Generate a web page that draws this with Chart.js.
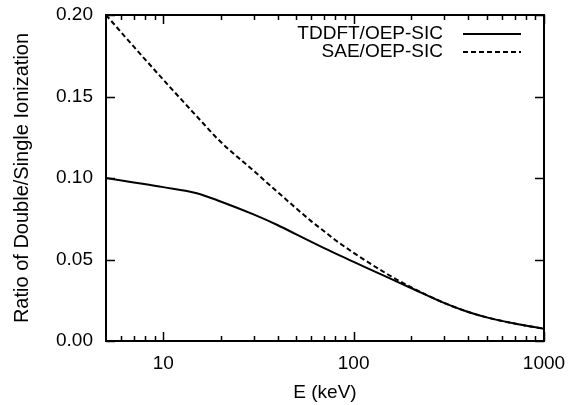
<!DOCTYPE html>
<html><head><meta charset="utf-8">
<script src="https://cdn.jsdelivr.net/npm/chart.js@4"></script>
<style>html,body{margin:0;padding:0;background:#fff}#wrap{width:574px;height:405px}</style>
</head><body><div id="wrap"><canvas id="c" width="574" height="405"></canvas></div>
<script>
const energies = [5,7,10,15,20,30,40,50,60,70,80,100,150,200,300,400,500,700,1000];
const tddft = [0.1000,0.0973,0.0944,0.0907,0.0856,0.0775,0.0710,0.0654,0.0608,0.0570,0.0537,0.0485,0.0392,0.0325,0.0232,0.0178,0.0145,0.0107,0.0075];
const sae   = [0.2000,0.1806,0.1603,0.1378,0.1222,0.1042,0.0912,0.0813,0.0734,0.0673,0.0620,0.0541,0.0411,0.0330,0.0233,0.0178,0.0145,0.0107,0.0075];
const seriesNames = ['TDDFT/OEP-SIC','SAE/OEP-SIC'];
const yTicks = [0,0.05,0.10,0.15,0.20];
const xMajorTicks = [10,100,1000];
const xMinorTicks = [6,7,8,9,20,30,40,50,60,70,80,90,200,300,400,500,600,700,800,900];
const xTitle = 'E (keV)';
const yTitle = 'Ratio of Double/Single Ionization';

const FONT = 'Liberation Sans, Arial, Helvetica, sans-serif';
const DASH = [5,3];

const framePlugin = {
  id: 'frame',
  afterDraw(chart) {
    const ctx = chart.ctx, a = chart.chartArea;
    const xs = chart.scales.x, ys = chart.scales.y;
    ctx.save();
    ctx.strokeStyle = '#000';
    ctx.lineWidth = 2;
    ctx.setLineDash([]);
    ctx.strokeRect(a.left, a.top, a.right - a.left, a.bottom - a.top);
    ctx.lineWidth = 1.5;
    ctx.beginPath();
    const major = 9, minor = 5;
    xMajorTicks.forEach(v => { const p = Math.round(xs.getPixelForValue(v)) + 0.5;
      ctx.moveTo(p, a.bottom); ctx.lineTo(p, a.bottom - major);
      ctx.moveTo(p, a.top); ctx.lineTo(p, a.top + major); });
    xMinorTicks.forEach(v => { const p = Math.round(xs.getPixelForValue(v)) + 0.5;
      ctx.moveTo(p, a.bottom); ctx.lineTo(p, a.bottom - minor);
      ctx.moveTo(p, a.top); ctx.lineTo(p, a.top + minor); });
    yTicks.forEach(v => { const p = Math.round(ys.getPixelForValue(v)) + 0.5;
      ctx.moveTo(a.left, p); ctx.lineTo(a.left + major, p);
      ctx.moveTo(a.right, p); ctx.lineTo(a.right - major, p); });
    ctx.stroke();
    // legend
    ctx.font = '19px ' + FONT;
    ctx.fillStyle = '#000';
    ctx.textAlign = 'right';
    ctx.textBaseline = 'middle';
    const rows = [{y: 34, dash: []}, {y: 52, dash: DASH}];
    rows.forEach((r, i) => {
      ctx.fillText(seriesNames[i], 443, r.y);
      ctx.lineWidth = 2;
      ctx.setLineDash(r.dash);
      ctx.beginPath(); ctx.moveTo(463, r.y); ctx.lineTo(521, r.y); ctx.stroke();
    });
    ctx.restore();
  }
};

new Chart(document.getElementById('c'), {
  type: 'line',
  data: {
    labels: energies,
    datasets: [
      { label: seriesNames[0], data: energies.map((e,i)=>({x:e,y:tddft[i]})), borderColor:'#000', borderWidth:2, pointRadius:0, cubicInterpolationMode:'monotone', fill:false },
      { label: seriesNames[1], data: energies.map((e,i)=>({x:e,y:sae[i]})), borderColor:'#000', borderWidth:2, borderDash:DASH, pointRadius:0, cubicInterpolationMode:'monotone', fill:false }
    ]
  },
  options: {
    responsive: false,
    devicePixelRatio: 1,
    animation: false,
    layout: { padding: { left: 0, right: 30, top: 15, bottom: 0 } },
    plugins: { legend: { display: false }, tooltip: { enabled: false } },
    scales: {
      x: {
        type: 'logarithmic', min: 5, max: 1000,
        afterBuildTicks(s) { s.ticks = xMajorTicks.map(v => ({value: v})); },
        afterFit(s) { s.height = 64; s.paddingLeft = 0; s.paddingRight = 0; },
        grid: { display: false, drawTicks: false },
        border: { display: false },
        ticks: { color:'#000', font:{family:FONT,size:19}, padding: 11, maxRotation:0, autoSkip:false,
          callback: v => String(v) },
        title: { display: true, text: xTitle, color:'#000', font:{family:FONT,size:19}, padding:{top:0,bottom:1} }
      },
      y: {
        min: 0, max: 0.2,
        afterBuildTicks(s) { s.ticks = yTicks.map(v => ({value: v})); },
        afterFit(s) { s.width = 106; s.paddingTop = 0; s.paddingBottom = 0; },
        grid: { display: false, drawTicks: false },
        border: { display: false },
        ticks: { color:'#000', font:{family:FONT,size:19}, padding: 13, callback: v => v.toFixed(2) },
        title: { display: true, text: yTitle, color:'#000', font:{family:FONT,size:20}, padding:{top:10,bottom:0} }
      }
    }
  },
  plugins: [framePlugin]
});
</script></body></html>
